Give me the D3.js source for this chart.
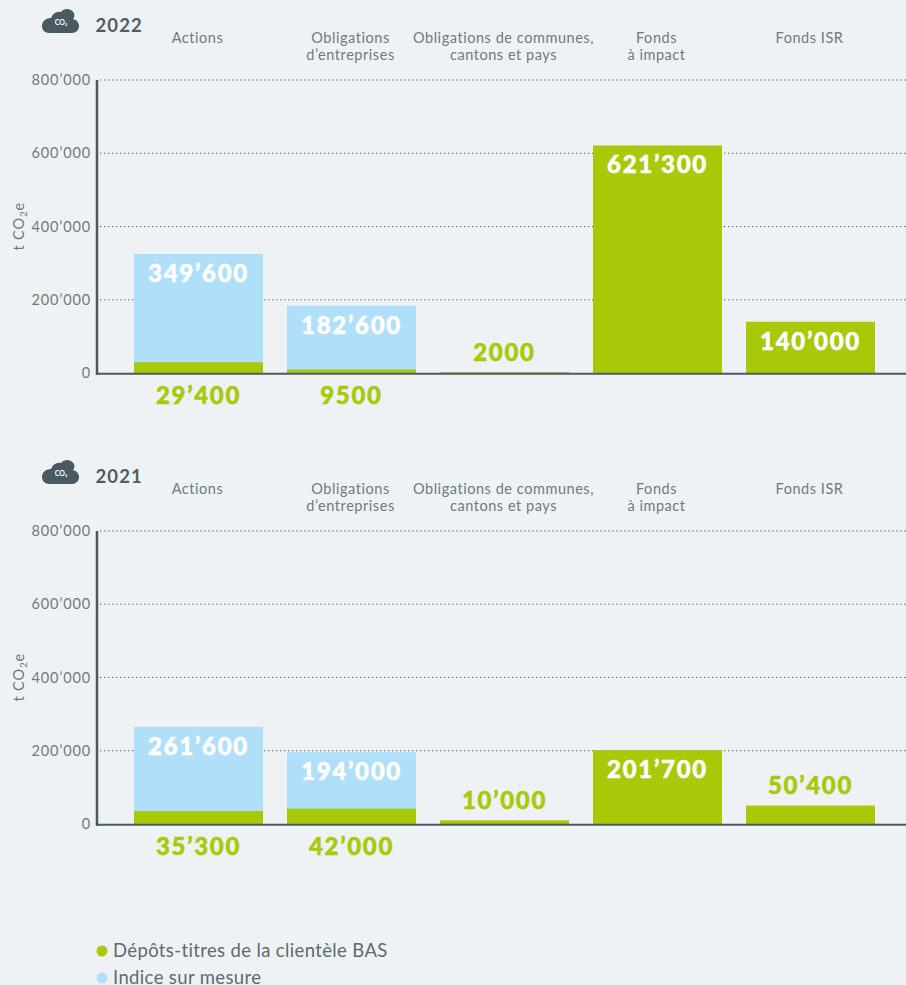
<!DOCTYPE html>
<html lang="en">
<head>
  <meta charset="UTF-8">
  <title>Empreinte CO2 2022 / 2021</title>
  <script src="https://d3js.org/d3.v7.min.js"></script>
  <style>
    html, body { margin: 0; padding: 0; background: #eef2f5; overflow: hidden; }
    svg { display: block; font-family: Lato, sans-serif; }
    .tick-label { fill: #6f7a80; font-size: 14.5px; letter-spacing: 0.85px; }
    .cat-label { fill: #6f7a80; font-size: 14.5px; letter-spacing: 0.55px; }
    .val { font-size: 24px; font-weight: 900; letter-spacing: 1.7px; stroke-width: 0.5px; }
    .year { fill: #4f5d64; font-size: 18.5px; font-weight: 700; letter-spacing: 1.1px; }
    .legend { fill: #5d6a70; font-size: 18.5px; letter-spacing: 0.36px; }
  </style>
</head>
<body>
<svg id="chart" width="906" height="985"></svg>
<script>
  const categories = [
    ["Actions"],
    ["Obligations", "d’entreprises"],
    ["Obligations de communes,", "cantons et pays"],
    ["Fonds", "à impact"],
    ["Fonds ISR"]
  ];
  const ticks = [0, 200000, 400000, 600000, 800000];
  const tickLabels = ["0", "200’000", "400’000", "600’000", "800’000"];

  const green2022 = [29400, 9500, 2000, 621300, 140000];
  const green2022Labels = ["29’400", "9500", "2000", "621’300", "140’000"];
  // blue heights as drawn in the picture, the printed label can differ
  const blue2022 = [325000, 184000, null, null, null];
  const blue2022Labels = ["349’600", "182’600", null, null, null];

  const green2021 = [35300, 42000, 10000, 201700, 50400];
  const green2021Labels = ["35’300", "42’000", "10’000", "201’700", "50’400"];
  const blue2021 = [265000, 196000, null, null, null];
  const blue2021Labels = ["261’600", "194’000", null, null, null];

  const legendNames = ["Dépôts-titres de la clientèle BAS", "Indice sur mesure"];

  const GREEN = "#a8c908", BLUE = "#b0dff9", DARK = "#4a5a62";
  const svg = d3.select("#chart");

  const x = d3.scaleBand().domain(d3.range(5)).range([134, 875]).paddingInner(24 / 153).paddingOuter(0);

  function drawPanel(top, year, green, greenLabels, blue, blueLabels) {
    const y = d3.scaleLinear().domain([0, 800000]).range([top + 293, top]);
    const g = svg.append("g");
    const base = y(0);
    const idx = d3.range(5);

    // dotted gridlines
    g.selectAll("line.grid").data(ticks.slice(1)).enter().append("line")
      .attr("x1", 100).attr("x2", 906)
      .attr("y1", d => y(d)).attr("y2", d => y(d))
      .attr("stroke", "#59666c").attr("stroke-width", 1.2).attr("stroke-dasharray", "1.4 2.6");

    // y axis
    const axis = d3.axisLeft(y).tickValues(ticks).tickSize(0).tickPadding(0)
      .tickFormat((d, i) => tickLabels[i]);
    const ag = g.append("g").attr("transform", "translate(91,0)").call(axis);
    ag.select(".domain").remove();
    ag.selectAll("text").attr("class", "tick-label");
    ag.attr("font-family", null).attr("font-size", null);

    // bars
    g.selectAll("rect.blue").data(idx.filter(i => blue[i] != null)).enter().append("rect")
      .attr("x", i => x(i)).attr("width", x.bandwidth())
      .attr("y", i => y(blue[i])).attr("height", i => base - y(blue[i])).attr("fill", BLUE);
    g.selectAll("rect.green").data(idx).enter().append("rect")
      .attr("x", i => x(i)).attr("width", x.bandwidth())
      .attr("y", i => y(green[i])).attr("height", i => base - y(green[i])).attr("fill", GREEN);

    // axis lines
    g.append("line").attr("x1", 97).attr("x2", 97).attr("y1", top).attr("y2", base + 2)
      .attr("stroke", DARK).attr("stroke-width", 2.5);
    g.append("line").attr("x1", 96).attr("x2", 906).attr("y1", base + 0.75).attr("y2", base + 0.75)
      .attr("stroke", DARK).attr("stroke-width", 2.2);

    // unit label
    const unit = g.append("text").attr("class", "tick-label")
      .attr("transform", `translate(24,${y(400000) + 24}) rotate(-90)`);
    unit.append("tspan").text("t CO");
    unit.append("tspan").text("2").attr("font-size", 10).attr("dy", 3);
    unit.append("tspan").text("e").attr("dy", -3);

    // category labels
    categories.forEach((lines, i) => {
      lines.forEach((line, j) => {
        g.append("text").attr("class", "cat-label").attr("text-anchor", "middle")
          .attr("x", x(i) + x.bandwidth() / 2 - 1)
          .attr("y", top - 37 + j * 17)
          .text(line);
      });
    });

    // blue values, inside the bar
    blueLabels.forEach((t, i) => {
      if (!t) return;
      g.append("text").attr("class", "val").attr("fill", "#fff").attr("stroke", "#fff")
        .attr("text-anchor", "middle")
        .attr("x", x(i) + x.bandwidth() / 2).attr("y", y(blue[i]) + 28).text(t);
    });

    // green values: below when stacked, inside tall bars, above short ones
    greenLabels.forEach((t, i) => {
      let ty, fill = GREEN;
      if (blue[i] != null) ty = base + 30.5;
      else if (base - y(green[i]) > 45) { ty = y(green[i]) + 28; fill = "#fff"; }
      else ty = y(green[i]) - 11.5;
      g.append("text").attr("class", "val").attr("fill", fill).attr("stroke", fill)
        .attr("text-anchor", "middle")
        .attr("x", x(i) + x.bandwidth() / 2).attr("y", ty).text(t);
    });

    // cloud icon + year
    const icon = g.append("g").attr("transform", `translate(42,${top - 72})`);
    icon.append("path").attr("fill", DARK)
      .attr("d", "M7,25 C2,25 0,21 0,18 C0,13 4,10 9,10 C11,5 15,3 19,4 C22,0 29,0 32,5 C33,8 32,10 31,11 C35,12 37,15 37,18 C37,22 34,25 30,25 Z");
    icon.append("text").attr("x", 19).attr("y", 16.5).attr("text-anchor", "middle")
      .attr("fill", "#fff").attr("font-size", 7).attr("font-weight", 700).text("CO₂");
    g.append("text").attr("class", "year").attr("x", 95.5).attr("y", top - 48).text(year);
  }

  drawPanel(80, "2022", green2022, green2022Labels, blue2022, blue2022Labels);
  drawPanel(531, "2021", green2021, green2021Labels, blue2021, blue2021Labels);

  // legend
  const legendColors = [GREEN, BLUE];
  const leg = svg.append("g").selectAll("g").data(legendNames).enter().append("g")
    .attr("transform", (d, i) => `translate(102,${951 + i * 27})`);
  leg.append("circle").attr("r", 5.5).attr("fill", (d, i) => legendColors[i]);
  leg.append("text").attr("class", "legend").attr("x", 11).attr("y", 5.5).text(d => d);
</script>
</body>
</html>
